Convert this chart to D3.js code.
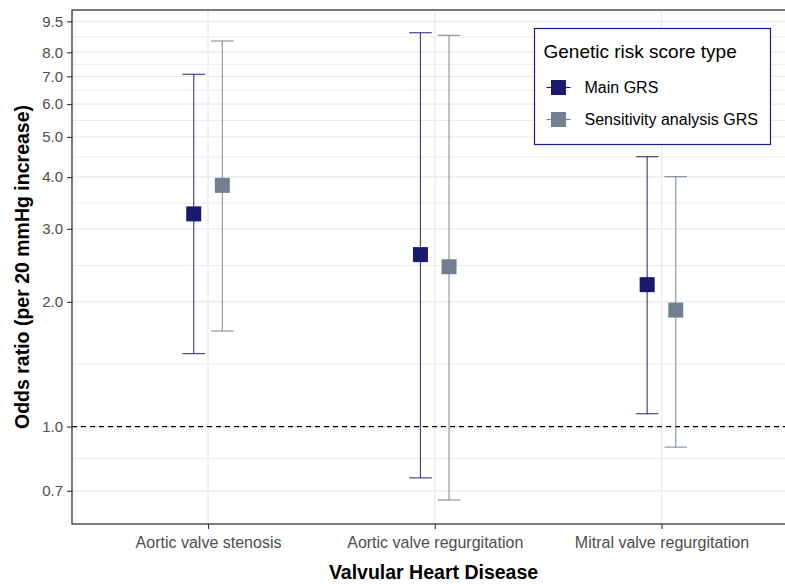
<!DOCTYPE html>
<html>
<head>
<meta charset="utf-8">
<script src="https://cdn.jsdelivr.net/npm/d3@7"></script>
<style>
  body { margin: 0; background: #fff; }
  svg { display: block; font-family: "Liberation Sans", Arial, sans-serif; }
</style>
</head>
<body>
<svg id="chart" width="785" height="584"></svg>
<script>
const categories = ["Aortic valve stenosis", "Aortic valve regurgitation", "Mitral valve regurgitation"];
const seriesNames = ["Main GRS", "Sensitivity analysis GRS"];
const seriesColors = ["#191970", "#708090"];

// odds ratio, lower CI, upper CI per category
const mainOR = [3.26, 2.60, 2.20];
const mainLow = [1.50, 0.752, 1.074];
const mainHigh = [7.08, 8.92, 4.48];
const sensOR = [3.82, 2.43, 1.91];
const sensLow = [1.70, 0.665, 0.892];
const sensHigh = [8.52, 8.79, 4.01];

const yBreaks = [0.7, 1.0, 2.0, 3.0, 4.0, 5.0, 6.0, 7.0, 8.0, 9.5];

const width = 785;
const height = 584;
const panel = { left: 72, right: 797.5, top: 10, bottom: 524 };

const svg = d3.select("#chart");

const x = d3.scalePoint().domain(categories).range([panel.left, panel.right]).padding(0.6);
const y = d3.scaleLog().domain([0.582, 10.12]).range([panel.bottom, panel.top]);
const dodge = 14.3;

// minor breaks: midpoints in log space
const minorBreaks = [];
for (let i = 0; i < yBreaks.length - 1; i++) {
  minorBreaks.push(Math.sqrt(yBreaks[i] * yBreaks[i + 1]));
}

const grid = svg.append("g");
grid.selectAll("line.minor")
  .data(minorBreaks)
  .join("line")
  .attr("x1", panel.left).attr("x2", panel.right)
  .attr("y1", (d) => y(d)).attr("y2", (d) => y(d))
  .attr("stroke", "#ebebeb")
  .attr("stroke-width", 1);
grid.selectAll("line.major")
  .data(yBreaks)
  .join("line")
  .attr("x1", panel.left).attr("x2", panel.right)
  .attr("y1", (d) => y(d)).attr("y2", (d) => y(d))
  .attr("stroke", "#ebebeb")
  .attr("stroke-width", 1.4);
grid.selectAll("line.vmajor")
  .data(categories)
  .join("line")
  .attr("x1", (d) => x(d)).attr("x2", (d) => x(d))
  .attr("y1", panel.top).attr("y2", panel.bottom)
  .attr("stroke", "#ebebeb")
  .attr("stroke-width", 1.4);

// reference line at OR = 1
svg.append("line")
  .attr("x1", panel.left).attr("x2", panel.right)
  .attr("y1", y(1)).attr("y2", y(1))
  .attr("stroke", "#000")
  .attr("stroke-width", 1.2)
  .attr("stroke-dasharray", "5,4");

// Build series rows
const series = [
  { name: seriesNames[0], color: seriesColors[0], offset: -dodge, or: mainOR, lo: mainLow, hi: mainHigh },
  { name: seriesNames[1], color: seriesColors[1], offset: dodge, or: sensOR, lo: sensLow, hi: sensHigh },
];

const capHalf = 11.3;
const sq = 15;
series.forEach((s) => {
  const rows = categories.map((c, i) => ({ cat: c, or: s.or[i], lo: s.lo[i], hi: s.hi[i] }));
  const g = svg.append("g");
  const cx = (d) => x(d.cat) + s.offset;
  g.selectAll("line.v").data(rows).join("line")
    .attr("x1", cx).attr("x2", cx)
    .attr("y1", (d) => y(d.lo)).attr("y2", (d) => y(d.hi))
    .attr("stroke", s.color).attr("stroke-width", 1.2).attr("stroke-opacity", 0.8);
  g.selectAll("line.top").data(rows).join("line")
    .attr("x1", (d) => cx(d) - capHalf).attr("x2", (d) => cx(d) + capHalf)
    .attr("y1", (d) => y(d.hi)).attr("y2", (d) => y(d.hi))
    .attr("stroke", s.color).attr("stroke-width", 1.2).attr("stroke-opacity", 0.8);
  g.selectAll("line.bot").data(rows).join("line")
    .attr("x1", (d) => cx(d) - capHalf).attr("x2", (d) => cx(d) + capHalf)
    .attr("y1", (d) => y(d.lo)).attr("y2", (d) => y(d.lo))
    .attr("stroke", s.color).attr("stroke-width", 1.2).attr("stroke-opacity", 0.8);
  g.selectAll("rect").data(rows).join("rect")
    .attr("x", (d) => cx(d) - sq / 2)
    .attr("y", (d) => y(d.or) - sq / 2)
    .attr("width", sq).attr("height", sq)
    .attr("fill", s.color);
});

// Axes
const yAxis = d3.axisLeft(y).tickValues(yBreaks).tickFormat(d3.format(".1f")).tickSize(5).tickPadding(4);
const yG = svg.append("g").attr("transform", `translate(${panel.left},0)`).call(yAxis);
yG.select(".domain").remove();
yG.selectAll(".tick line").attr("stroke", "#333").attr("stroke-width", 1.1);
yG.selectAll(".tick text").attr("fill", "#4d4d4d").attr("font-size", 15)
  .attr("font-family", "Liberation Sans, Arial, sans-serif");

const xAxis = d3.axisBottom(x).tickSize(5).tickPadding(8);
const xG = svg.append("g").attr("transform", `translate(0,${panel.bottom})`).call(xAxis);
xG.select(".domain").remove();
xG.selectAll(".tick line").attr("stroke", "#333").attr("stroke-width", 1.1);
xG.selectAll(".tick text").attr("fill", "#4d4d4d").attr("font-size", 16)
  .attr("font-family", "Liberation Sans, Arial, sans-serif");

// Panel border
svg.append("rect")
  .attr("x", panel.left).attr("y", panel.top)
  .attr("width", panel.right - panel.left).attr("height", panel.bottom - panel.top)
  .attr("fill", "none").attr("stroke", "#333").attr("stroke-width", 1.3);

// Axis titles
svg.append("text")
  .attr("transform", `translate(29,${(panel.top + panel.bottom) / 2}) rotate(-90)`)
  .attr("text-anchor", "middle")
  .attr("font-size", 19.5).attr("font-weight", "bold").attr("fill", "#000")
  .text("Odds ratio (per 20 mmHg increase)");
svg.append("text")
  .attr("x", 433.5).attr("y", 579)
  .attr("text-anchor", "middle")
  .attr("font-size", 19.5).attr("font-weight", "bold").attr("fill", "#000")
  .text("Valvular Heart Disease");

// Legend
const legend = svg.append("g").attr("transform", "translate(534.5,28.5)");
legend.append("rect")
  .attr("width", 236).attr("height", 116)
  .attr("fill", "#fff").attr("stroke", "#1c1c9a").attr("stroke-width", 1.2);
legend.append("text")
  .attr("x", 9).attr("y", 29)
  .attr("font-size", 19).attr("fill", "#000")
  .text("Genetic risk score type");
series.forEach((s, i) => {
  const g = legend.append("g").attr("transform", `translate(24,${59 + i * 32})`);
  g.append("line").attr("x1", -12).attr("x2", 12).attr("stroke", s.color).attr("stroke-width", 1.1);
  g.append("rect").attr("x", -7.5).attr("y", -7.5).attr("width", 15).attr("height", 15).attr("fill", s.color);
  g.append("text").attr("x", 26).attr("y", 5.5).attr("font-size", 16).attr("fill", "#000").text(s.name);
});
</script>
</body>
</html>
